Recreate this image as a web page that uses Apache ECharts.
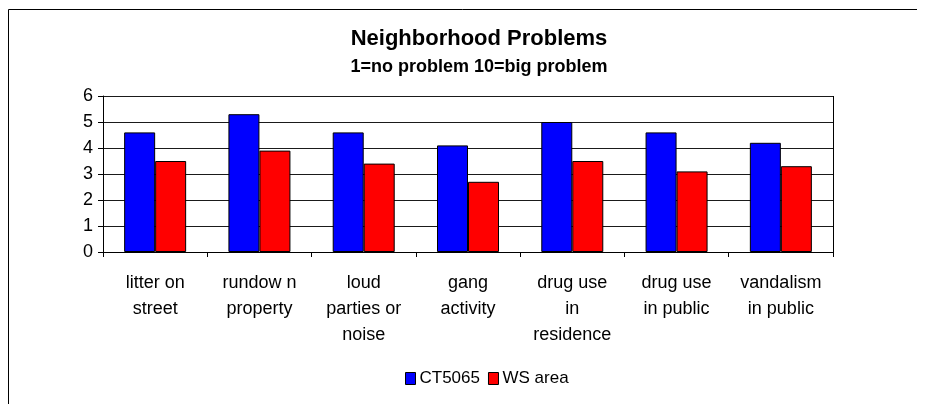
<!DOCTYPE html>
<html>
<head>
<meta charset="utf-8">
<script src="https://cdn.jsdelivr.net/npm/echarts@6/dist/echarts.min.js"></script>
<style>
html, body { margin: 0; padding: 0; background: #fff; }
#main { width: 925px; height: 404px; }
</style>
</head>
<body>
<div id="main"></div>
<script>
var categories = ['litter on\nstreet', 'rundow n\nproperty', 'loud\nparties or\nnoise', 'gang\nactivity',
	'drug use\nin\nresidence', 'drug use\nin public', 'vandalism\nin public'];
var ct5065 = [4.6, 5.3, 4.6, 4.1, 5.0, 4.6, 4.2];
var wsArea = [3.5, 3.9, 3.4, 2.7, 3.5, 3.1, 3.3];
var yTicks = [0, 1, 2, 3, 4, 5, 6];

var font = 'Liberation Sans, Arial, sans-serif';
var myChart = echarts.init(document.getElementById('main'));
var option = {
	animation : false,
	textStyle : { fontFamily : font },
	title : [{
		text : 'Neighborhood Problems',
		left : 474, top : 23, textAlign : 'center',
		textStyle : { fontSize : 22, fontWeight : 'bold', color : '#000', fontFamily : font }
	}, {
		text : '1=no problem 10=big problem',
		left : 474, top : 53, textAlign : 'center',
		textStyle : { fontSize : 18, fontWeight : 'bold', color : '#000', fontFamily : font }
	}],
	graphic : [{
		type : 'polyline',
		shape : { points : [[8.5, 404], [8.5, 9.5], [917, 9.5]] },
		style : { stroke : '#000', lineWidth : 1, fill : null }
	}],
	legend : {
		data : ['CT5065', 'WS area'],
		left : 400, top : 365,
		itemWidth : 10, itemHeight : 12, itemGap : 8,
		icon : 'rect',
		itemStyle : { borderColor : '#000', borderWidth : 1 },
		textStyle : { fontSize : 17, color : '#000', fontFamily : font, padding : [0, 0, 0, -1] }
	},
	grid : { left : 103, right : 92, top : 96, bottom : 152 },
	xAxis : {
		type : 'category',
		data : categories,
		axisLine : { lineStyle : { color : '#000', width : 1 } },
		axisTick : { show : true, length : 5, lineStyle : { color : '#000' } },
		axisLabel : { color : '#000', fontSize : 18, lineHeight : 26, margin : 18, interval : 0, fontFamily : font },
		splitLine : { show : false }
	},
	yAxis : {
		type : 'value',
		min : 0, max : 6, interval : 1,
		axisLine : { show : true, lineStyle : { color : '#000', width : 1 } },
		axisTick : { show : true, length : 5, lineStyle : { color : '#000' } },
		axisLabel : {
			color : '#000', fontSize : 18, margin : 10, fontFamily : font,
			formatter : function(v) { return yTicks.indexOf(v) >= 0 ? String(v) : ''; }
		},
		splitLine : { show : true, lineStyle : { color : '#1a1a1a', width : 1 } }
	},
	series : [{
		name : 'CT5065', type : 'bar', data : ct5065,
		barWidth : 31, barGap : '0%',
		itemStyle : { color : '#0000ff', borderColor : '#000', borderWidth : 1 }
	}, {
		name : 'WS area', type : 'bar', data : wsArea,
		barWidth : 31, barGap : '0%',
		itemStyle : { color : '#ff0000', borderColor : '#000', borderWidth : 1 }
	}, {
		// right edge of the plot area
		type : 'line', data : [], markLine : {
			silent : true, symbol : 'none', label : { show : false },
			lineStyle : { color : '#000', type : 'solid', width : 1 },
			data : [[{ coord : [6.5, 0], x : 833 }, { coord : [6.5, 6], x : 833 }]]
		}
	}]
};
myChart.setOption(option, true);
</script>
</body>
</html>
